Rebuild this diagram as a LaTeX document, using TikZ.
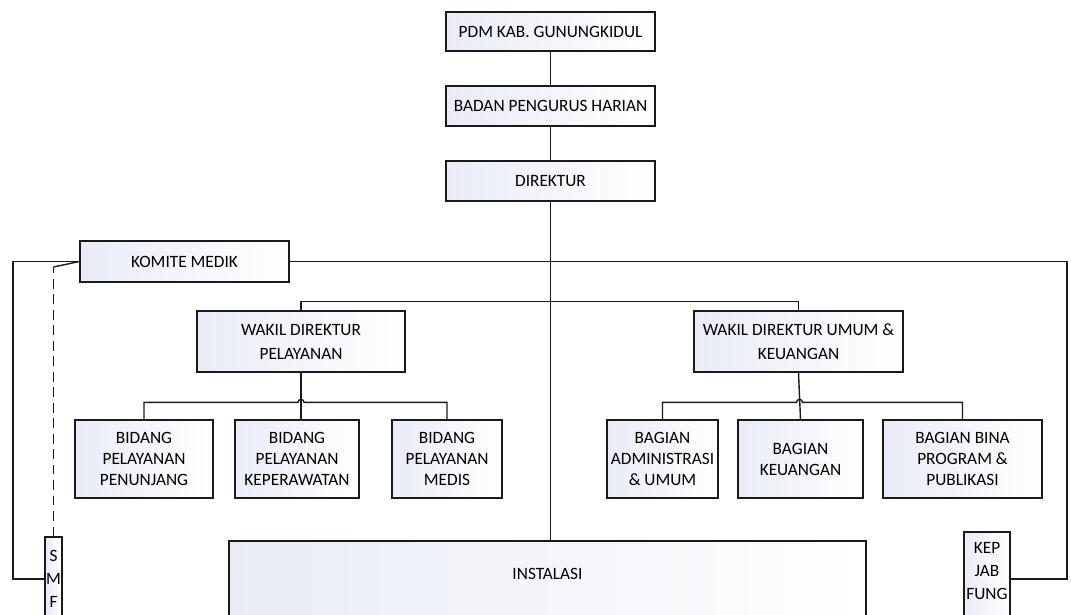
\documentclass[tikz,border=0pt]{standalone}
\usepackage{fontspec}
\setmainfont{Carlito}
\usepackage{tikz}
\usetikzlibrary{calc,positioning}
\usepackage{xcolor}
\definecolor{boxfill}{HTML}{E9ECF6}
\definecolor{edge}{HTML}{1A1A1A}
\tikzset{
  box/.style={draw=edge,line width=0.9pt,left color=boxfill,right color=white,
    align=center,inner sep=1pt,font=\fontsize{12.3}{15}\selectfont},
  link/.style={draw=edge,line width=1pt},
  dashlink/.style={draw=edge,line width=1pt,dash pattern=on 7pt off 4pt}
}
\begin{document}
\begin{tikzpicture}[x=0.025cm,y=-0.025cm]
  \useasboundingbox (0,0) rectangle (1071,614);
  \clip (0,0) rectangle (1071,614);
  % pimpinan
  \node[box,minimum width=5.225cm,minimum height=0.975cm] (pdm) at (550.5,31.5) {PDM KAB. GUNUNGKIDUL};
  \node[box,minimum width=5.225cm,minimum height=1.0cm] (bph) at (550.5,106) {BADAN PENGURUS HARIAN};
  \node[box,minimum width=5.225cm,minimum height=1.0cm] (dir) at (550.5,181) {DIREKTUR};
  \node[box,minimum width=5.225cm,minimum height=1.025cm] (komite) at (184.5,261.5) {KOMITE MEDIK};
  % wakil direktur
  \node[box,minimum width=5.2cm,minimum height=1.525cm] (wpel) at (301,341.5) {WAKIL DIREKTUR\\[2pt]PELAYANAN};
  \node[box,minimum width=5.225cm,minimum height=1.525cm] (wum) at (798.5,341.5) {WAKIL DIREKTUR UMUM \&\\[2pt]KEUANGAN};
  % bidang
  \node[box,minimum width=3.45cm,minimum height=1.95cm] (bpen) at (144,459) {BIDANG\\PELAYANAN\\PENUNJANG};
  \node[box,minimum width=3.1cm,minimum height=1.95cm] (bkep) at (297,459) {BIDANG\\PELAYANAN\\KEPERAWATAN};
  \node[box,minimum width=2.75cm,minimum height=1.95cm] (bmed) at (447,459) {BIDANG\\PELAYANAN\\MEDIS};
  % bagian
  \node[box,minimum width=2.775cm,minimum height=1.95cm] (badm) at (662.5,459) {BAGIAN\\ADMINISTRASI\\\& UMUM};
  \node[box,minimum width=3.125cm,minimum height=1.95cm] (bkeu) at (800.5,459) {BAGIAN\\KEUANGAN};
  \node[box,minimum width=3.975cm,minimum height=1.95cm] (bbina) at (962.5,459) {BAGIAN BINA\\PROGRAM \&\\PUBLIKASI};
  % bawah
  \node[box,minimum width=15.925cm,minimum height=2.475cm,
    label={[yshift=0.41cm,font=\fontsize{12.3}{15}\selectfont]center:INSTALASI}] (inst) at (547.5,590.5) {};
  \node[box,minimum width=0.425cm,minimum height=2.1cm,inner sep=0pt,
    font=\fontsize{12.3}{16.4}\selectfont] (smf) at (53.5,579) {S\\M\\F};
  \node[box,minimum width=1.15cm,minimum height=2.35cm,
    label={[yshift=0.2cm,align=center,font=\fontsize{12.3}{16.4}\selectfont]center:KEP\\JAB\\FUNG}] (kep) at (987,579) {};
  \coordinate (rline) at (1067,261.5);
  \coordinate (lline) at (13,261.5);
  \coordinate (dtop) at (53.5,267);

  \draw[link] (pdm) -- (bph);
  \draw[link] (bph) -- (dir);
  \draw[link] (dir.south) -- (dir.south |- inst.north);
  \draw[link] (komite.east) -- (rline) |- (kep.east);
  \draw[link] (komite.west) -- (lline) |- (smf.west);
  \draw[dashlink] (smf.north) -- (dtop);
  \draw[link] (dtop) -- (komite.west);
  \draw[link] (wpel.north) -- ++(0,-9) -| (wum.north);
  % pelayanan
  \draw[link] (wpel.south) -- (wpel.south |- bkep.north);
  \draw[link] (bpen.north) -- ++(0,-17) coordinate (barl)
    -- ($(barl -| wpel.south)+(-3,0)$) arc[start angle=180,end angle=0,radius=0.075cm]
    -| (bmed.north);
  % umum & keuangan
  \draw[link] (wum.south) -- (bkeu.north);
  \draw[link] (badm.north) -- ++(0,-17) coordinate (barr)
    -- ($(barr -| wum.south)+(-2,0)$) arc[start angle=180,end angle=0,radius=0.075cm]
    -| (bbina.north);
\end{tikzpicture}
\end{document}
